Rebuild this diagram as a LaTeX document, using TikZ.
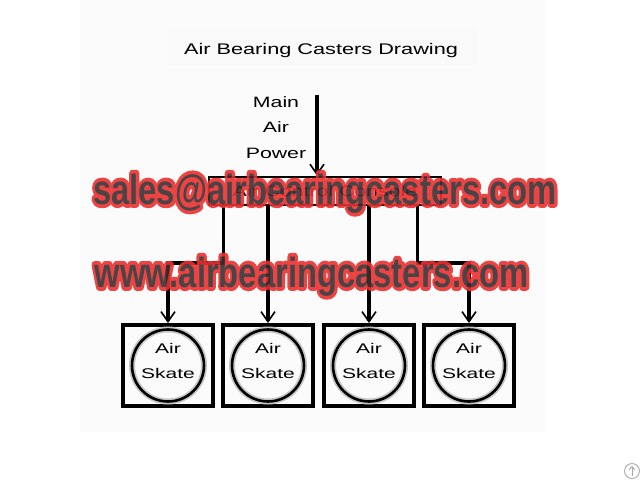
\documentclass[tikz,border=0pt]{standalone}
\usepackage{fontspec}
\setmainfont{Liberation Sans}
\usepackage{graphicx}
\usetikzlibrary{arrows.meta,positioning}

\definecolor{stampred}{HTML}{EC2F30}
\definecolor{stampdark}{HTML}{383032}

\newcommand{\wide}[2][1.42]{\scalebox{#1}[1]{#2}}
\newcommand{\narrow}[1]{\scalebox{0.78}[1]{#1}}
\newcommand{\outlined}[1]{\special{pdf:literal direct 2 Tr 7.5 w 1 j}#1\special{pdf:literal direct 0 Tr 1 w}}

\tikzset{
  pipe/.style={line width=3.2pt},
  flow/.style={pipe,-{Straight Barb[length=10pt,width=14pt,line width=1.6pt]}},
  console/.style={draw,line width=2.8pt,minimum width=232pt,minimum height=28pt,inner sep=0pt},
  skatebox/.style={draw,line width=4pt,minimum width=90pt,minimum height=81pt,inner sep=0pt},
  ring/.style={circle,draw,line width=2.6pt,minimum size=72pt,inner sep=0pt,
    preaction={draw=gray!45,line width=6pt}},
  stampglow/.style={text=stampred,font=\fontsize{42}{42}\selectfont\bfseries,inner sep=0pt},
  stampfill/.style={text=stampdark,font=\fontsize{42}{42}\selectfont\bfseries,inner sep=0pt}
}

\begin{document}
\begin{tikzpicture}[x=1pt,y=-1pt,font=\fontsize{15}{25.5}\selectfont]
  \useasboundingbox[fill=white] (0,0) rectangle (640,480);
  \fill[gray!3] (80,0) rectangle (545,432);
  \fill[gray!5] (168,30) rectangle (477,65);

  % title and supply
  \node (title) at (321,51) {\fontsize{15.4}{18}\selectfont\wide[1.41]{Air Bearing Casters Drawing}};
  \node[align=center] (supplylabel) at (276,127.5) {\wide{Main}\\\wide{Air}\\\wide{Power}};
  \coordinate (supply) at (317,95);

  % console
  \node[console] (console) at (325,191) {\wide{Air Control Console}};
  \draw[flow] (supply) -- (supply |- console.north);

  % skates
  \foreach \x [count=\i] in {168,268,369,469} {
    \node[skatebox] (skate\i) at (\x,365.5) {};
    \node[ring] (ring\i) at (skate\i) {};
    \node[align=center,font=\fontsize{14}{25}\selectfont] (name\i) at ([yshift=5pt]ring\i.center)
      {\wide[1.5]{Air}\\\wide[1.5]{Skate}};
  }

  % branches
  \draw[flow] ([xshift=16pt]console.south west) |- ([yshift=60pt]skate1.north) -- (skate1.north);
  \draw[flow] (console.south -| skate2.north) -- (skate2.north);
  \draw[flow] (console.south -| skate3.north) -- (skate3.north);
  \draw[flow] ([xshift=-25pt]console.south east) |- ([yshift=60pt]skate4.north) -- (skate4.north);

  % stamps
  \coordinate (salesbase) at (325,204);
  \coordinate (wwwbase) at (311.5,287);
  \begin{scope}[opacity=0.9,transparency group]
    \node[stampglow,anchor=base] (salesglow) at (salesbase) {\narrow{\outlined{sales@airbearingcasters.com}}};
    \node[stampglow,anchor=base] (wwwglow) at (wwwbase) {\narrow{\outlined{www.airbearingcasters.com}}};
    \node[stampfill,anchor=base] (sales) at (salesbase) {\narrow{sales@airbearingcasters.com}};
    \node[stampfill,anchor=base] (www) at (wwwbase) {\narrow{www.airbearingcasters.com}};
  \end{scope}

  % corner icon
  \node[circle,draw=gray!60,line width=1pt,minimum size=15pt,inner sep=0pt] (totop) at (632,471) {};
  \draw[gray!70,line width=1pt,-{Straight Barb[length=3pt,width=6pt]}] ([yshift=-5pt]totop.center) -- ([yshift=5pt]totop.center);
\end{tikzpicture}
\end{document}
